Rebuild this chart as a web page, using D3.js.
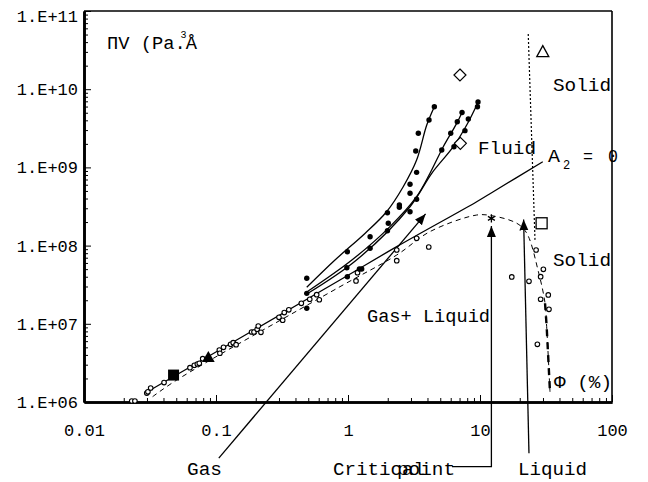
<!DOCTYPE html>
<html><head><meta charset="utf-8">
<script src="https://cdn.jsdelivr.net/npm/d3@7"></script>
<style>
body{margin:0;background:#fff}
text{font-family:"Liberation Mono","Courier New",monospace;fill:#000}
</style>
</head><body>
<svg id="c" width="648" height="482"></svg>
<script>
// ---------- data (phi %, PiV Pa.A^3) ----------
const xTicks = [0.01, 0.1, 1, 10, 100];
const xTickLabels = ["0.01", "0.1", "1", "10", "100"];
const yTicks = [1e6, 1e7, 1e8, 1e9, 1e10, 1e11];
const yTickLabels = ["1.E+06", "1.E+07", "1.E+08", "1.E+09", "1.E+10", "1.E+11"];

const openCircles = [
 [0.0230,1.03e6],[0.0243,1.03e6],[0.0299,1.30e6],[0.0305,1.35e6],[0.0320,1.51e6],[0.0404,1.77e6],
 [0.0635,2.75e6],[0.0685,2.95e6],[0.0722,3.06e6],[0.0747,3.13e6],[0.0793,3.58e6],
 [0.106,4.62e6],[0.107,4.20e6],[0.114,5.00e6],[0.129,5.47e6],[0.135,5.73e6],[0.142,5.41e6],
 [0.186,7.85e6],[0.194,7.85e6],[0.205,8.51e6],[0.209,9.37e6],[0.219,7.78e6],
 [0.300,1.21e7],[0.320,1.11e7],[0.329,1.39e7],[0.356,1.51e7],
 [0.443,1.83e7],[0.513,2.06e7],[0.579,2.36e7],[0.606,2.03e7],
 [1.15,3.53e7],[1.18,4.50e7],[2.34,8.79e7],[2.34,6.41e7],[3.31,1.24e8],[4.09,9.60e7],
 [17.4,3.97e7],[23.5,3.49e7],[26.6,8.79e7],[30.2,4.98e7],[28.8,4.00e7],[28.8,2.06e7],
 [32.9,2.34e7],[33.3,1.53e7],[27.2,5.47e6]
];
const filledCircles = [
 [0.487,3.82e7],[0.487,2.45e7],[0.487,1.58e7],
 [0.989,8.36e7],[0.98,5.22e7],[0.989,4.00e7],[1.22,5.02e7],[1.27,5.02e7],
 [1.47,1.30e8],[1.47,9.24e7],[1.99,2.63e8],[2.02,1.93e8],[1.99,1.55e8],
 [2.45,3.30e8],[2.45,3.09e8],[2.95,2.71e8],[2.95,6.08e8],[2.95,4.67e8],[3.31,3.91e8],
 [3.31,8.65e8],[3.26,1.62e9],[3.41,2.73e9],[4.11,4.04e9],[4.51,5.97e9],
 [5.13,1.67e9],[6.00,2.73e9],[6.73,3.84e9],[7.31,5.03e9],
 [6.35,1.84e9],[7.69,2.95e9],[8.16,4.16e9],[9.57,5.97e9],[9.66,6.86e9]
];
const curve1 = [[0.487,2.93e7],[0.797,6.54e7],[1.35,1.44e8],[1.96,2.71e8],[2.62,5.66e8],[3.31,1.24e9],[3.95,3.48e9],[4.51,5.97e9]];
const curve2 = [[0.487,2.55e7],[1.07,6.54e7],[2.08,1.75e8],[3.31,4.22e8],[4.18,8.41e8],[5.27,1.84e9],[6.66,3.66e9],[7.35,5.16e9]];
const curve3 = [[0.487,2.40e7],[1.16,6.54e7],[2.95,3.14e8],[4.31,8.41e8],[6.28,1.84e9],[7.93,3.48e9],[9.71,6.92e9]];
const a2Line = [[0.030,1.34e6],[0.869,3.63e7],[2.34,9.69e7],[9.44,3.64e8],[12.6,4.89e8],[29.9,1.18e9]];
const dashedCurve = [[0.0331,1.17e6],[0.0504,1.91e6],[0.869,2.98e7],[2.34,7.58e7],[4.18,1.51e8],[9.44,2.46e8],
 [12.3,2.41e8],[19.0,1.93e8],[22.6,1.44e8],[27.7,4.64e7],[31.1,1.83e7],[32.0,9.18e6],[33.9,1.35e6]];
const dashedTail = [[31.1,1.83e7],[32.0,9.18e6],[33.9,1.35e6]];
const dottedLine = [[23.2,5.08e10],[26.1,1.18e8]];
const filledSquare = [0.0477,2.21e6];
const filledTriangle = [0.0875,3.62e6];
const openDiamonds = [[7.05,1.52e10],[7.10,2.03e9]];
const openTriangle = [29.9,3.02e10];
const openSquare = [29.3,1.93e8];
const criticalStar = [12.2,2.23e8];
const gasArrow = [[0.105,1.92e5],[3.87,2.54e8]];
const criticalArrow = [[6.13,1.49e5],[12.2,1.49e5],[12.2,1.78e8]];
const liquidArrow = [[23.5,2.21e5],[21.4,2.16e8]];

// ---------- scales ----------
const svg = d3.select("#c");
const x = d3.scaleLog().domain([0.01,100]).range([84,612]);
const y = d3.scaleLog().domain([1e6,1e11]).range([402,11]);
const px = d => x(d[0]), py = d => y(d[1]);

svg.append("defs").append("marker").attr("id","ah")
  .attr("markerUnits","userSpaceOnUse").attr("markerWidth",11).attr("markerHeight",10)
  .attr("refX",11).attr("refY",5).attr("orient","auto")
  .append("path").attr("d","M0,0.5L11,5L0,9.5Z").attr("fill","#000");

// frame
svg.append("line").attr("x1",84).attr("x2",612).attr("y1",11).attr("y2",11).attr("stroke","#000").attr("stroke-width",1.3);
svg.append("line").attr("x1",612).attr("x2",612).attr("y1",11).attr("y2",402).attr("stroke","#000").attr("stroke-width",1.6);

// minor tick values
const minorX = [], minorY = [];
for (let e=-2;e<2;e++) for (let k=2;k<10;k++) minorX.push(k*Math.pow(10,e));
for (let e=6;e<11;e++) for (let k=2;k<10;k++) minorY.push(k*Math.pow(10,e));

const yAxisMinor = svg.append("g").attr("transform","translate(84,0)")
  .call(d3.axisLeft(y).tickValues(minorY).tickFormat("").tickSizeInner(-4).tickSizeOuter(0));
const yAxis = svg.append("g").attr("transform","translate(84,0)")
  .call(d3.axisLeft(y).tickValues(yTicks).tickFormat((d,i)=>yTickLabels[i]).tickSizeInner(-7).tickSizeOuter(0).tickPadding(6));
const xAxisMinor = svg.append("g").attr("transform","translate(0,402)")
  .call(d3.axisBottom(x).tickValues(minorX).tickFormat("").tickSizeInner(-4).tickSizeOuter(0));
const xAxis = svg.append("g").attr("transform","translate(0,402)")
  .call(d3.axisBottom(x).tickValues(xTicks).tickFormat((d,i)=>xTickLabels[i]).tickSizeInner(-7).tickSizeOuter(0).tickPadding(22));
[yAxisMinor,yAxis,xAxisMinor,xAxis].forEach(g=>{
  g.select(".domain").attr("stroke","#000").attr("stroke-width",2.6);
  g.selectAll(".tick line").attr("stroke","#000").attr("stroke-width",1);
  g.selectAll("text").attr("font-size",17).attr("font-family",'"Liberation Mono","Courier New",monospace').attr("fill","#000");
});
yAxis.selectAll(".tick").filter(d=>d===1e11).select("text").attr("dy","0.62em");

// lines
const lineC = d3.line().x(px).y(py).curve(d3.curveCatmullRom.alpha(0.5));
const lineL = d3.line().x(px).y(py);
[curve1,curve2,curve3].forEach(c=>svg.append("path").attr("d",lineC(c)).attr("fill","none").attr("stroke","#000").attr("stroke-width",1.3));
svg.append("path").attr("d",lineC(a2Line)).attr("fill","none").attr("stroke","#000").attr("stroke-width",1.3);
svg.append("path").attr("d",lineC(dashedCurve)).attr("fill","none").attr("stroke","#000").attr("stroke-width",1).attr("stroke-dasharray","5,4");
svg.append("path").attr("d",lineL(dashedTail)).attr("fill","none").attr("stroke","#000").attr("stroke-width",2.4).attr("stroke-dasharray","7,6");
svg.append("path").attr("d",lineL(dottedLine)).attr("fill","none").attr("stroke","#000").attr("stroke-width",1.2).attr("stroke-dasharray","2,2");

// arrows
[gasArrow,criticalArrow,liquidArrow].forEach(a=>svg.append("path").attr("d",lineL(a)).attr("fill","none")
  .attr("stroke","#000").attr("stroke-width",1.3).attr("marker-end","url(#ah)"));

// points
svg.append("g").selectAll("circle").data(openCircles).join("circle")
  .attr("cx",px).attr("cy",py).attr("r",2.3).attr("fill","#fff").attr("stroke","#000").attr("stroke-width",1.1);
svg.append("g").selectAll("circle").data(filledCircles).join("circle")
  .attr("cx",px).attr("cy",py).attr("r",2.7).attr("fill","#000");
svg.append("rect").attr("x",px(filledSquare)-5.5).attr("y",py(filledSquare)-5.5).attr("width",11).attr("height",11).attr("fill","#000");
svg.append("path").attr("transform",`translate(${px(filledTriangle)},${py(filledTriangle)})`)
  .attr("d",d3.symbol(d3.symbolTriangle,70)()).attr("fill","#000");
svg.append("g").selectAll("path").data(openDiamonds).join("path")
  .attr("transform",d=>`translate(${px(d)},${py(d)})`).attr("d","M0,-6L6,0L0,6L-6,0Z")
  .attr("fill","#fff").attr("stroke","#000").attr("stroke-width",1.2);
svg.append("path").attr("transform",`translate(${px(openTriangle)},${py(openTriangle)})`)
  .attr("d","M0,-6L6,5L-6,5Z").attr("fill","#fff").attr("stroke","#000").attr("stroke-width",1.3);
svg.append("rect").attr("x",px(openSquare)-5.5).attr("y",py(openSquare)-5.5).attr("width",11).attr("height",11)
  .attr("fill","#fff").attr("stroke","#000").attr("stroke-width",1.3);
svg.append("path").attr("transform",`translate(${px(criticalStar)},${py(criticalStar)})`)
  .attr("d",d3.symbol(d3.symbolAsterisk,45)()).attr("fill","none").attr("stroke","#000").attr("stroke-width",1.3);

// labels
function label(t,x0,y0,len,fs){
  const e = svg.append("text").attr("x",x0).attr("y",y0).attr("font-size",fs||18).text(t);
  if(len) e.attr("textLength",len).attr("lengthAdjust","spacingAndGlyphs");
  return e;
}
label("ΠV (Pa.Å",107,49,90);
label("3",180.5,38,null,10);
label("Solid",553,90.5,58);
label("Solid",553,266,58);
label("Fluid",478,153.5,58);
label("A",548,161.5,12);
label("2",563,168.5,null,12);
label("=",583,161.5,10);
label("0",608,161.5,10);
label("Gas+ Liquid",367,321.5,123);
label("Φ (%)",554,388,58);
label("Gas",187,475,35);
label("Critical",333,475,92);
label("point",397,475,58);
label("Liquid",518,475,69);
</script>
</body></html>
